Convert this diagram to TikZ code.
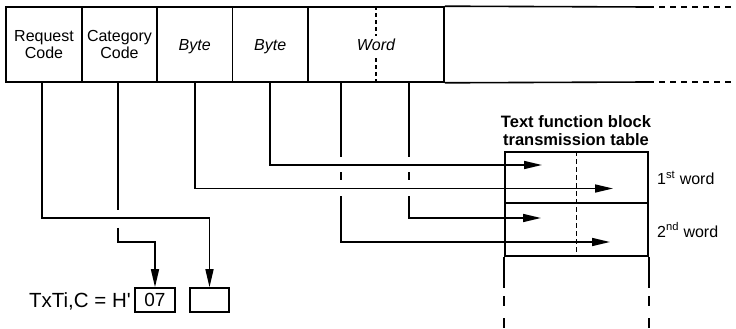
\documentclass[tikz,border=0pt]{standalone}
\usepackage{fontspec}
\setmainfont{Liberation Sans}
\usetikzlibrary{arrows.meta}
\begin{document}
\begin{tikzpicture}[x=1pt,y=-1pt,
  ln/.style={line width=1.6pt},
  thk/.style={line width=2pt},
  arr/.style={ln,-{Triangle[length=18pt,width=8pt]}},
  field/.style={draw,line width=1.6pt,minimum height=75pt,inner sep=0pt,align=center,
    font=\fontsize{16}{17}\selectfont},
  rowbox/.style={draw,thk,minimum width=143pt,inner sep=0pt},
  smallbox/.style={draw,line width=1.6pt,minimum width=40pt,minimum height=24pt,inner sep=0pt,
    font=\fontsize{19}{20}\selectfont},
  lbl/.style={font=\fontsize{16}{17}\selectfont,inner sep=0pt},
  dsh/.style={ln,dash pattern=on 6pt off 5pt},
]
\useasboundingbox (0,0) rectangle (736,329);

% top frame fields
\node[field,minimum width=76pt]   (req)   at (44,44.5)    {Request\\Code};
\node[field,minimum width=75pt]   (cat)   at (119.5,44.5) {Category\\Code};
\node[field,minimum width=75.5pt] (byte1) at (194.75,44.5) {\raisebox{-2.5pt}[11pt][3pt]{\itshape Byte}};
\node[field,minimum width=75.5pt] (byte2) at (270.25,44.5) {\raisebox{-2.5pt}[11pt][3pt]{\itshape Byte}};
\node[field,minimum width=136pt]  (word)  at (376,44.5)   {\raisebox{-2.5pt}[11pt][3pt]{\itshape Word}};
\draw[ln,dash pattern=on 4pt off 3pt] (word.north) -- ++(0,30);
\draw[ln,dash pattern=on 4pt off 3pt] (word.south) -- ++(0,-27);
\coordinate (tr) at (648,7);
\coordinate (br) at (648,82);
\coordinate (te) at (736,7);
\coordinate (be) at (736,82);
\draw[ln] (word.north east) -- (tr);
\draw[ln] (word.south east) -- (br);
\draw[dsh] (tr) -- (te);
\draw[dsh] (br) -- (be);

% transmission table
\node[rowbox,minimum height=51pt] (r1) at (576.5,177.5) {};
\node[rowbox,minimum height=53pt] (r2) at (576.5,229.5) {};
\draw[ln,dash pattern=on 5pt off 3pt] (r1.north) -- (r2.south);
\node[font=\fontsize{16.5}{18}\selectfont\bfseries,align=center] (title) at (576,131)
  {Text function block\\transmission table};
\node[lbl,anchor=west] (w1) at (657,178) {1\textsuperscript{st} word};
\node[lbl,anchor=west] (w2) at (657,230) {2\textsuperscript{nd} word};
\draw[thk] (r2.south west) -- ++(0,31);
\draw[thk] (r2.south east) -- ++(0,31);
\draw[thk,dash pattern=on 10pt off 12pt] ([yshift=-39pt]r2.south west) -- ++(0,34);
\draw[thk,dash pattern=on 10pt off 12pt] ([yshift=-39pt]r2.south east) -- ++(0,34);

% bottom
\node[smallbox] (b07) at (155,300) {07};
\node[smallbox,minimum width=39pt] (bx) at (209.5,300) {};
\node[font=\fontsize{20.5}{22}\selectfont,anchor=base east,inner sep=0pt] (tx) at (131,307.5)
  {TxTi,C = H\textquotesingle};

% arrow tips at table
\coordinate (t1) at (542,165);
\coordinate (t2) at (613,188.5);
\coordinate (t3) at (541,218);
\coordinate (t4) at (610,242);
\coordinate (wa) at (341,82);
\coordinate (wb) at (409,82);

% connectors
\draw[arr] ([xshift=-2pt]req.south) -- ++(0,135) -| (bx.north);
\draw[ln] ([xshift=-1.5pt]cat.south) -- ++(0,127);
\draw[arr] ([xshift=-1.5pt,yshift=-145pt]cat.south) -- ++(0,14) -| (b07.north);
\draw[arr] (byte1.south) |- (t2);
\draw[arr] (byte2.south) |- (t1);
\draw[ln] (wa) -- ++(0,75);
\draw[ln] ([yshift=-90pt]wa) -- ++(0,8);
\draw[arr] ([yshift=-114pt]wa) |- (t4);
\draw[ln] (wb) -- ++(0,75);
\draw[ln] ([yshift=-90pt]wb) -- ++(0,8);
\draw[arr] ([yshift=-114pt]wb) |- (t3);
\end{tikzpicture}
\end{document}
